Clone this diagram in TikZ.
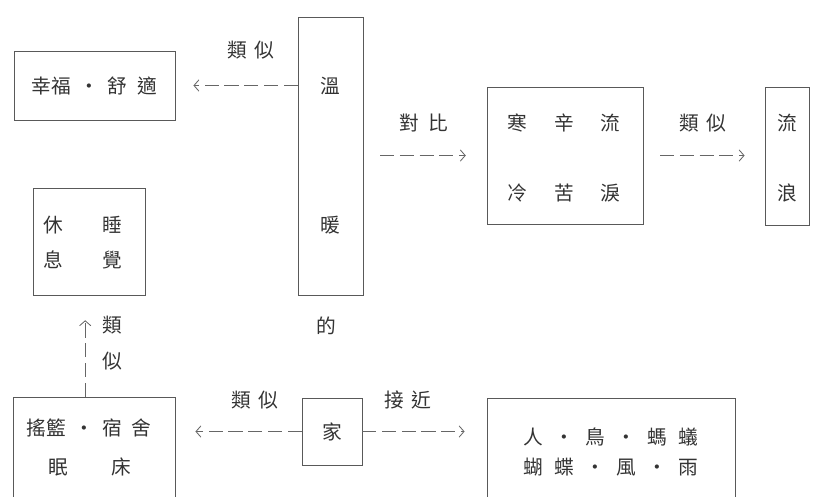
\documentclass[tikz,border=0pt]{standalone}
\usepackage{fontspec}
\newfontfamily\cjk{Noto Sans CJK TC}
\usetikzlibrary{positioning,arrows.meta}
\newcommand\px{0.025cm}

\begin{document}
\begin{tikzpicture}[x=\px,y=-\px,
		mybox/.style={rectangle,draw=black!65,line width=.6pt,inner sep=0pt},
		mytext/.style={text=black!80,font=\cjk\fontsize{14}{16}\selectfont,inner sep=0pt},
		myarrow/.style={draw=black!60,line width=.6pt,dash pattern=on 10pt off 4pt,-{Straight Barb[length=3.5pt,width=8pt]}}]
		\useasboundingbox (0,0) rectangle (826,496);
		\clip (0,0) rectangle (826,496);
		% boxes
		\node(happy)[mybox,mytext,minimum width=161*\px,minimum height=69*\px] at (94.5,85.5) {幸福\hspace{6pt}・\hspace{6pt}舒\hspace{7pt}適};
		\node(warm)[mybox,minimum width=65*\px,minimum height=278*\px] at (330.5,156) {};
		\node(warmA)[mytext] at (330,86) {溫};
		\node(warmB)[mytext] at (330,225) {暖};
		\node(warmC)[mytext] at (326,326) {的};
		\node(cold)[mybox,minimum width=156*\px,minimum height=137*\px] at (565,155.5) {};
		\node(coldA)[mytext] at (564,123) {寒\hspace{19pt}辛\hspace{19pt}流};
		\node(coldB)[mytext] at (564,193) {冷\hspace{19pt}苦\hspace{19pt}淚};
		\node(wander)[mybox,minimum width=44*\px,minimum height=138*\px] at (787,156) {};
		\node(wanderA)[mytext] at (787,123) {流};
		\node(wanderB)[mytext] at (787,193) {浪};
		\node(rest)[mybox,minimum width=112*\px,minimum height=107*\px] at (89,241.5) {};
		\node(restA)[mytext] at (83,225) {休\hspace{28pt}睡};
		\node(restB)[mytext] at (83,260) {息\hspace{28pt}覺};
		\node(cradle)[mybox,minimum width=162*\px,minimum height=112*\px] at (94,453) {};
		\node(cradleA)[mytext] at (89,428) {搖籃\hspace{6pt}・\hspace{6pt}宿\hspace{7pt}舍};
		\node(cradleB)[mytext] at (90,467) {眠\hspace{31pt}床};
		\node(home)[mybox,mytext,minimum width=60*\px,minimum height=67*\px] at (332,431.5) {家};
		\node(nature)[mybox,minimum width=248*\px,minimum height=112*\px] at (611,454) {};
		\node(natureA)[mytext] at (611,437) {人\hspace{8pt}・\hspace{8pt}鳥\hspace{8pt}・\hspace{8pt}螞\hspace{8pt}蟻};
		\node(natureB)[mytext] at (611,467) {蝴\hspace{8pt}蝶\hspace{8pt}・\hspace{8pt}風\hspace{8pt}・\hspace{8pt}雨};
		% labels
		\node(simA)[mytext] at (251,50) {類\hspace{5pt}似};
		\node(contrast)[mytext] at (424,123) {對\hspace{7pt}比};
		\node(simB)[mytext] at (703,123) {類\hspace{5pt}似};
		\node(simC)[mytext,align=center] at (112,343) {類\\[10pt]似};
		\node(simD)[mytext] at (255,400) {類\hspace{5pt}似};
		\node(near)[mytext] at (408,400) {接\hspace{5pt}近};
		% arrows
		\draw[myarrow,shorten >=.45cm] (warm.west |- happy.east) -- (happy.east);
		\draw[myarrow,shorten <=.42cm,shorten >=.52cm] (warm.east |- cold.west) -- (cold.west);
		\draw[myarrow,shorten <=.42cm,shorten >=.5cm] (cold.east) -- (wander.west |- cold.east);
		\draw[myarrow,shorten >=.62cm] ([xshift=-.22cm]cradle.north) -- ([xshift=-.22cm]cradle.north |- rest.south);
		\draw[myarrow,shorten >=.5cm] (home.west) -- (cradle.east |- home.west);
		\draw[myarrow,shorten >=.55cm] (home.east) -- (nature.west |- home.east);
	\end{tikzpicture}
\end{document}
